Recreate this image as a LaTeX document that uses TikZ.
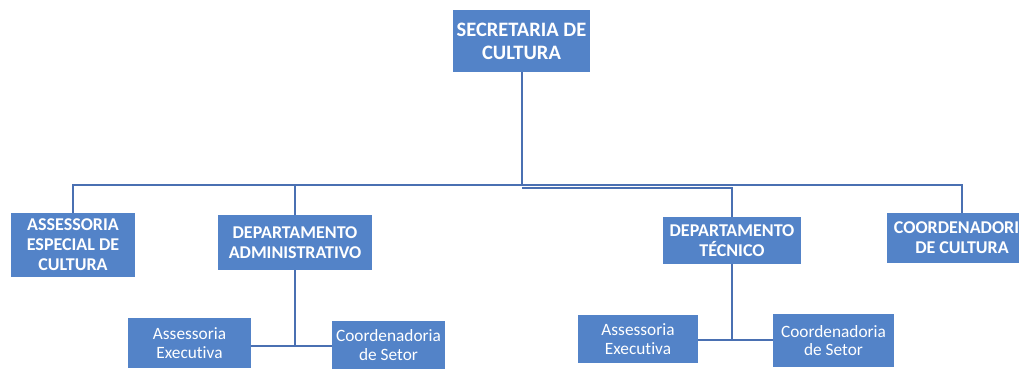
\documentclass[tikz,border=0pt]{standalone}
\usepackage{fontspec}
\setmainfont{Carlito}[Ligatures=NoCommon]
\usepackage{xcolor}
\usepackage{tikz}

\definecolor{boxblue}{HTML}{5383C8}
\definecolor{lineblue}{HTML}{4A70B2}

\tikzset{
  orgbox/.style={fill=boxblue, text=white, inner sep=0pt, align=center},
  headbox/.style={orgbox, font=\bfseries\fontsize{20.5}{23}\selectfont},
  deptbox/.style={orgbox, font=\bfseries\fontsize{18}{20}\selectfont},
  subbox/.style={orgbox, font=\fontsize{17.3}{18.5}\selectfont},
  link/.style={draw=lineblue, line width=2pt}
}

\begin{document}
\begin{tikzpicture}[x=1pt,y=-1pt]
    \clip (0,0) rectangle (1019,368);
    \fill[white] (0,0) rectangle (1019,368);
    % top level
    \node[headbox, minimum width=137pt, minimum height=62pt] (sec) at (521.5,41) {SECRETARIA DE\\CULTURA};
    % second level
    \node[deptbox, minimum width=124pt, minimum height=64pt] (aesp) at (73,245) {ASSESSORIA\\ESPECIAL DE\\CULTURA};
    \node[deptbox, minimum width=154pt, minimum height=55pt] (dadm) at (295,242.5) {DEPARTAMENTO\\ADMINISTRATIVO};
    \node[deptbox, minimum width=138pt, minimum height=47pt] (dtec) at (732,240.5) {DEPARTAMENTO\\TÉCNICO};
    \node[deptbox, minimum width=150pt, minimum height=50pt] (ccult) at (962,238) {COORDENADORIA\\DE CULTURA};
    % third level
    \node[subbox, minimum width=123pt, minimum height=50pt] (aexe1) at (189.5,343) {Assessoria\\Executiva};
    \node[subbox, minimum width=113pt, minimum height=48pt] (cset1) at (388.5,345) {Coordenadoria\\de Setor};
    \node[subbox, minimum width=120pt, minimum height=48pt] (aexe2) at (638,339) {Assessoria\\Executiva};
    \node[subbox, minimum width=121pt, minimum height=53pt] (cset2) at (833.5,340.5) {Coordenadoria\\de Setor};

    \coordinate (bus) at (521.5,185);
    \coordinate (busb) at (521.5,188);
    \coordinate (admj) at (295,346);
    \coordinate (tecj) at (732,340);

    \draw[link] (sec.south) -- (bus);
    \draw[link] (aesp.north) |- (bus);
    \draw[link] (dadm.north) |- (bus);
    \draw[link] (dtec.north) |- (busb);
    \draw[link] (ccult.north) |- (bus);

    \draw[link] (dadm.south) -- (admj);
    \draw[link] (aexe1.east |- admj) -- (admj) -- (cset1.west |- admj);
    \draw[link] (dtec.south) -- (tecj);
    \draw[link] (aexe2.east |- tecj) -- (tecj) -- (cset2.west |- tecj);
\end{tikzpicture}
\end{document}
